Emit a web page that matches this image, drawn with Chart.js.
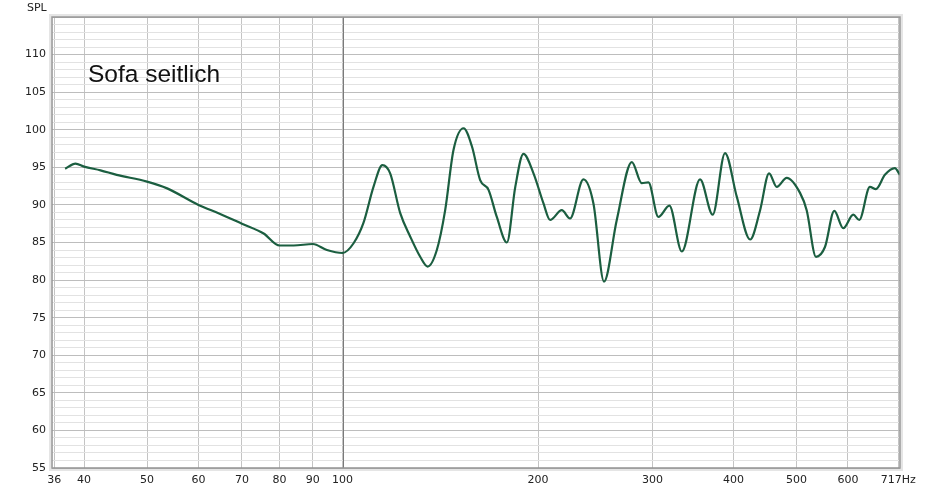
<!DOCTYPE html>
<html>
<head>
<meta charset="utf-8">
<script src="https://cdn.jsdelivr.net/npm/chart.js@4.4.1/dist/chart.umd.min.js"></script>
<style>
  html, body { margin: 0; padding: 0; background: #fff; }
  #wrap { width: 926px; height: 492px; }
</style>
</head>
<body>
<div id="wrap"><canvas id="spl_graph" width="926" height="492"></canvas></div>
<script>
// frequency response
const freqs = [37.4, 38.8, 40, 42.4, 44.9, 50, 53.7, 60, 64.8, 70, 75.6, 80, 84.1, 90, 94.6, 100,
    104, 107.7, 111.6, 115.2, 118.4, 122.7, 127.1, 131.7, 135.2, 139.7, 143.9, 148.2, 153.6, 158.2,
    162.9, 167.8, 172.8, 179.1, 184.5, 189.9, 196.8, 203.9, 208.7, 217.6, 224, 234.9, 243.4, 252.7,
    264.4, 278.9, 288.9, 295.8, 306.4, 318.6, 333, 355.2, 371.5, 388.1, 404.6, 424.2, 439.5, 453.7,
    466.2, 483, 506.3, 518.4, 535.8, 553.1, 571.7, 590.2, 611.5, 624.6, 648.7, 662.6, 684.1, 708.6, 721.5];
const spl = [94.8, 95.5, 95.1, 94.6, 94.0, 93.1, 92.2, 90.0, 88.8, 87.5, 86.2, 84.6, 84.6, 84.8, 84.0, 83.6,
    84.9, 87.6, 92.4, 95.3, 94.2, 88.9, 85.8, 83.1, 81.8, 84.0, 89.3, 97.3, 100.2, 97.8,
    93.3, 92.0, 88.4, 85.0, 92.4, 96.8, 94.2, 90.2, 88.0, 89.3, 88.2, 93.4, 90.2, 79.8,
    88.0, 95.7, 92.9, 93.0, 88.4, 89.9, 83.8, 93.4, 88.7, 96.9, 91.1, 85.4, 89.3, 94.2,
    92.4, 93.6, 91.6, 89.3, 83.1, 84.4, 89.2, 86.9, 88.7, 88.0, 92.4, 92.1, 94.0, 94.9, 94.0];

const xTicks = [36, 40, 50, 60, 70, 80, 90, 100, 200, 300, 400, 500, 600, 717];
const yMin = 55;
const yMax = 115;

const points = [];
for (let i = 0; i < freqs.length; i++)
    points.push({ x: freqs[i], y: spl[i] });

const tickFont = { family: 'DejaVu Sans', size: 11 };

const labelsPlugin = {
    id: 'labels',
    beforeDatasetsDraw(chart) {
        // the 100 Hz line is drawn solid and darker
        const ctx = chart.ctx;
        const a = chart.chartArea;
        const x = Math.round(chart.scales.x.getPixelForValue(100)) + 0.5;
        ctx.save();
        ctx.strokeStyle = '#7a7a7a';
        ctx.lineWidth = 1;
        ctx.beginPath();
        ctx.moveTo(x, a.top);
        ctx.lineTo(x, a.bottom);
        ctx.stroke();
        ctx.restore();
    },
    afterDraw(chart) {
        const ctx = chart.ctx;
        const a = chart.chartArea;
        ctx.save();
        // frame round the plot
        ctx.strokeStyle = 'rgba(0,0,0,0.10)';
        ctx.lineWidth = 4;
        ctx.strokeRect(a.left - 1, a.top - 1, a.right - a.left + 2, a.bottom - a.top + 2);
        ctx.strokeStyle = '#9a9a9a';
        ctx.lineWidth = 1.5;
        ctx.strokeRect(a.left, a.top, a.right - a.left, a.bottom - a.top);

        ctx.fillStyle = '#222';
        ctx.font = '11px "DejaVu Sans"';
        ctx.textAlign = 'left';
        ctx.textBaseline = 'middle';
        ctx.fillText('SPL', 27, 8);

        ctx.fillStyle = '#111';
        ctx.font = '24.5px "Liberation Sans"';
        ctx.textBaseline = 'alphabetic';
        ctx.fillText('Sofa seitlich', 88, 82);
        ctx.restore();
    }
};

const config = {
    type: 'line',
    data: {
        datasets: [{
            data: points,
            borderColor: '#1b5e40',
            borderWidth: 2.2,
            pointRadius: 0,
            cubicInterpolationMode: 'monotone',
            fill: false
        }]
    },
    options: {
        responsive: false,
        animation: false,
        layout: { padding: { top: 17, right: 26, left: 0, bottom: 0 } },
        plugins: {
            legend: { display: false },
            tooltip: { enabled: false }
        },
        scales: {
            x: {
                type: 'logarithmic',
                min: 35.7,
                max: 721.7,
                afterBuildTicks: axis => {
                    axis.ticks = xTicks.map(v => ({ value: v }));
                },
                afterFit: axis => { axis.height = 24; },
                ticks: {
                    autoSkip: false,
                    maxRotation: 0,
                    padding: 6,
                    color: '#222',
                    font: tickFont,
                    callback: v => v === 717 ? '717Hz' : String(v)
                },
                border: { display: false },
                grid: {
                    drawTicks: false,
                    color: '#c4c4c4',
                    lineWidth: 1
                }
            },
            y: {
                min: yMin,
                max: yMax,
                afterBuildTicks: axis => {
                    const t = [];
                    for (let v = yMin; v <= yMax; v++) t.push({ value: v });
                    axis.ticks = t;
                },
                afterFit: axis => { axis.width = 52; },
                ticks: {
                    autoSkip: false,
                    padding: 6,
                    color: '#222',
                    font: tickFont,
                    callback: v => (v % 5 === 0 && v !== yMax) ? String(v) : ''
                },
                border: { display: false },
                grid: {
                    drawTicks: false,
                    color: ctx => ctx.tick && ctx.tick.value % 5 === 0 ? '#bdbdbd' : '#e2e2e2',
                    lineWidth: 1
                }
            }
        }
    },
    plugins: [labelsPlugin]
};

const chart = new Chart(document.getElementById('spl_graph'), config);
</script>
</body>
</html>
